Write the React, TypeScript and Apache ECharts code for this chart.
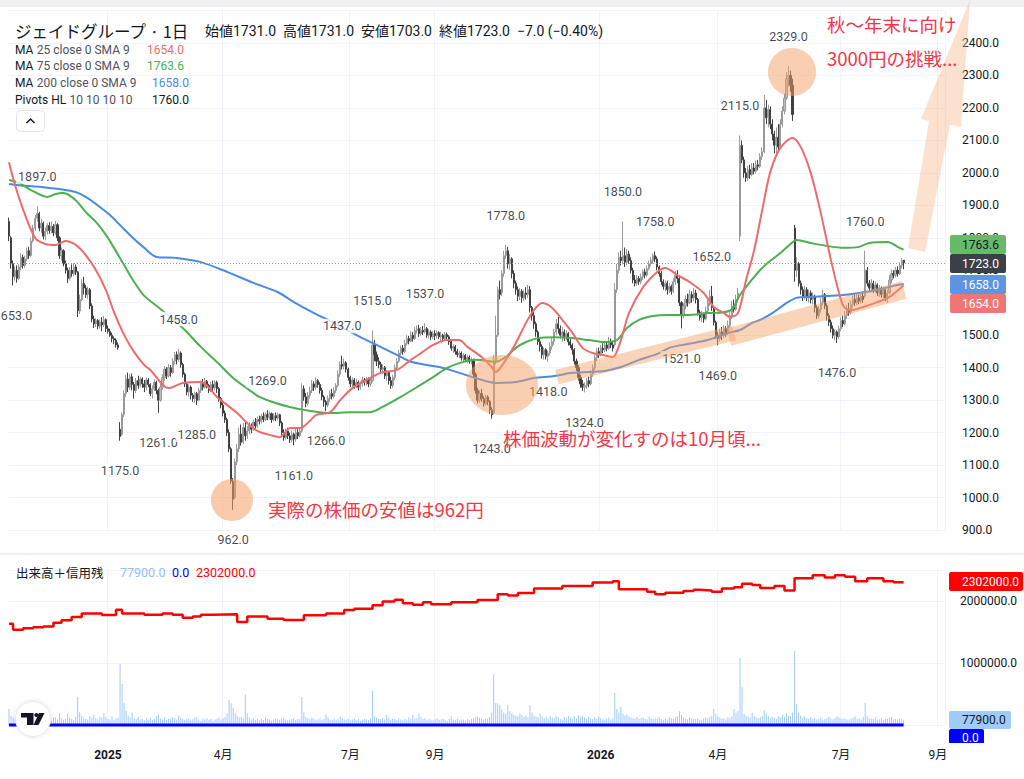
import React, { useEffect, useRef } from "react";
import * as echarts from "echarts";

const N_CATS = 464;
const xTickIdx = [49, 106, 169, 211, 293, 351, 412, 460];
const xTickLabels = ["2025", "4月", "7月", "9月", "2026", "4月", "7月", "9月"];

// [open, close, low, high]
const candles: number[][] = [
[1850,1805,1790,1862],[1800,1720,1705,1805],[1720,1680,1653,1730],[1680,1700,1668,1712],[1700,1675,1662,1715],
[1675,1710,1670,1720],[1710,1740,1700,1752],[1740,1715,1705,1748],[1715,1735,1708,1745],[1735,1760,1728,1770],
[1760,1745,1735,1772],[1745,1790,1740,1800],[1790,1830,1785,1840],[1830,1860,1822,1870],[1860,1875,1850,1897],
[1875,1830,1820,1880],[1830,1845,1815,1858],[1845,1805,1795,1850],[1805,1820,1792,1832],[1820,1838,1810,1845],
[1838,1822,1812,1848],[1822,1835,1815,1850],[1835,1815,1805,1842],[1815,1840,1810,1852],[1840,1800,1790,1845],
[1800,1745,1735,1805],[1745,1760,1730,1770],[1760,1720,1712,1765],[1720,1700,1690,1730],[1700,1675,1661,1708],
[1675,1700,1668,1710],[1700,1690,1680,1718],[1690,1710,1682,1722],[1710,1695,1685,1718],[1695,1575,1556,1698],
[1575,1610,1565,1625],[1610,1660,1605,1672],[1660,1645,1625,1680],[1645,1625,1615,1655],[1625,1640,1612,1650],
[1640,1590,1580,1645],[1590,1550,1540,1598],[1550,1535,1522,1560],[1535,1545,1525,1552],[1545,1528,1518,1550],
[1528,1540,1520,1548],[1540,1532,1512,1556],[1532,1548,1525,1560],[1548,1520,1510,1552],[1520,1512,1505,1530],
[1512,1500,1495,1520],[1500,1490,1478,1508],[1490,1485,1472,1496],[1485,1470,1462,1490],[1470,1462,1455,1478],
[1210,1188,1175,1232],[1195,1255,1190,1262],[1255,1320,1248,1330],[1320,1365,1310,1378],[1365,1340,1325,1385],
[1340,1372,1332,1380],[1372,1348,1330,1382],[1348,1330,1305,1356],[1330,1360,1322,1368],[1360,1345,1335,1375],
[1345,1365,1340,1372],[1365,1350,1338,1370],[1350,1340,1325,1362],[1340,1362,1330,1370],[1362,1348,1340,1368],
[1348,1320,1312,1352],[1320,1335,1305,1345],[1335,1355,1328,1365],[1355,1330,1318,1360],[1330,1300,1261,1335],
[1300,1340,1295,1350],[1340,1370,1332,1380],[1370,1395,1360,1405],[1395,1375,1365,1402],[1375,1400,1370,1412],
[1400,1385,1372,1408],[1385,1420,1380,1430],[1420,1440,1410,1448],[1440,1425,1410,1450],[1425,1445,1418,1458],
[1445,1410,1400,1450],[1410,1380,1370,1415],[1380,1350,1340,1385],[1350,1325,1315,1356],[1325,1340,1310,1348],
[1340,1315,1302,1345],[1315,1305,1295,1322],[1305,1320,1292,1326],[1320,1300,1285,1325],[1300,1330,1296,1338],
[1330,1352,1322,1360],[1352,1340,1330,1365],[1340,1358,1335,1368],[1358,1345,1336,1362],[1345,1330,1322,1350],
[1330,1348,1325,1356],[1348,1338,1328,1360],[1338,1355,1330,1362],[1355,1335,1322,1360],[1335,1305,1295,1340],
[1305,1285,1275,1310],[1285,1260,1250,1292],[1260,1240,1230,1268],[1240,1200,1190,1246],[1200,1150,1140,1210],
[1150,1050,1042,1155],[1050,995,962,1060],[1000,1110,995,1120],[1110,1150,1100,1165],[1150,1195,1140,1215],
[1195,1170,1160,1225],[1170,1215,1165,1230],[1215,1190,1175,1235],[1190,1205,1180,1220],[1205,1220,1195,1232],
[1220,1210,1198,1228],[1210,1232,1205,1240],[1232,1220,1212,1245],[1220,1240,1215,1250],[1240,1235,1225,1252],
[1235,1250,1228,1258],[1250,1240,1232,1262],[1240,1255,1235,1262],[1255,1248,1238,1269],[1248,1258,1240,1265],
[1258,1240,1230,1262],[1240,1252,1235,1260],[1252,1245,1235,1262],[1245,1255,1238,1262],[1255,1230,1220,1258],
[1230,1200,1190,1235],[1200,1185,1175,1210],[1185,1205,1178,1212],[1205,1190,1180,1215],[1190,1178,1168,1200],
[1178,1195,1170,1205],[1195,1180,1161,1200],[1180,1200,1172,1212],[1200,1190,1180,1210],[1190,1205,1185,1215],
[1205,1335,1200,1352],[1335,1310,1298,1345],[1310,1290,1278,1322],[1290,1315,1282,1325],[1315,1330,1305,1342],
[1330,1350,1322,1362],[1350,1340,1328,1358],[1340,1360,1332,1370],[1360,1348,1338,1365],[1348,1330,1320,1355],
[1330,1310,1300,1338],[1310,1295,1280,1315],[1295,1285,1266,1300],[1285,1305,1278,1315],[1305,1320,1295,1330],
[1320,1312,1302,1335],[1312,1330,1305,1340],[1330,1345,1322,1352],[1345,1380,1340,1392],[1380,1410,1372,1420],
[1410,1405,1395,1437],[1405,1415,1395,1428],[1415,1395,1385,1420],[1395,1370,1360,1400],[1370,1350,1340,1375],
[1350,1362,1338,1370],[1362,1345,1335,1368],[1345,1355,1338,1365],[1355,1340,1330,1360],[1340,1350,1332,1358],
[1350,1362,1342,1372],[1362,1355,1345,1368],[1355,1365,1345,1372],[1365,1350,1340,1370],[1350,1360,1342,1368],
[1360,1470,1355,1515],[1470,1440,1420,1485],[1440,1420,1405,1450],[1420,1410,1398,1432],[1410,1395,1385,1418],
[1395,1400,1380,1410],[1400,1375,1365,1405],[1375,1385,1360,1392],[1385,1360,1348,1390],[1360,1345,1335,1372],
[1345,1370,1338,1378],[1370,1400,1362,1410],[1400,1420,1392,1430],[1420,1445,1415,1455],[1445,1460,1438,1468],
[1460,1450,1440,1470],[1450,1475,1445,1485],[1475,1490,1468,1500],[1490,1482,1472,1498],[1482,1500,1478,1512],
[1500,1490,1480,1510],[1490,1515,1485,1525],[1515,1520,1505,1530],[1520,1505,1495,1532],[1505,1515,1498,1525],
[1515,1510,1500,1528],[1510,1520,1505,1537],[1520,1500,1492,1525],[1500,1510,1490,1518],[1510,1495,1485,1515],
[1495,1505,1488,1512],[1505,1498,1485,1515],[1498,1508,1490,1515],[1508,1495,1488,1512],[1495,1500,1482,1510],
[1500,1490,1480,1505],[1490,1502,1485,1510],[1502,1495,1485,1508],[1495,1480,1470,1500],[1480,1460,1452,1486],
[1460,1465,1445,1472],[1465,1450,1440,1470],[1450,1440,1432,1458],[1440,1445,1430,1452],[1445,1430,1422,1450],
[1430,1438,1420,1445],[1438,1425,1418,1442],[1425,1432,1415,1440],[1432,1420,1412,1438],[1420,1425,1410,1432],
[1425,1380,1370,1428],[1380,1330,1320,1385],[1330,1300,1290,1338],[1300,1320,1292,1330],[1320,1305,1295,1335],
[1305,1290,1280,1312],[1290,1310,1282,1318],[1310,1295,1285,1315],[1295,1270,1258,1300],[1270,1255,1243,1278],
[1260,1420,1255,1440],[1420,1500,1410,1560],[1500,1640,1495,1650],[1640,1625,1610,1668],[1630,1690,1620,1700],
[1690,1745,1680,1760],[1745,1760,1735,1778],[1760,1720,1705,1772],[1720,1735,1700,1750],[1735,1690,1675,1740],
[1690,1660,1645,1700],[1660,1640,1625,1668],[1640,1620,1605,1650],[1620,1635,1608,1645],[1635,1615,1600,1642],
[1615,1630,1605,1640],[1630,1625,1610,1648],[1625,1640,1615,1655],[1640,1585,1570,1652],[1585,1560,1545,1590],
[1560,1535,1520,1572],[1535,1510,1495,1542],[1510,1480,1470,1515],[1480,1465,1450,1490],[1465,1440,1428,1472],
[1440,1455,1425,1462],[1455,1435,1425,1460],[1435,1445,1418,1452],[1445,1465,1438,1478],[1465,1480,1455,1492],
[1480,1510,1470,1520],[1510,1535,1500,1550],[1535,1520,1505,1556],[1520,1500,1490,1530],[1500,1510,1480,1525],
[1510,1495,1482,1518],[1495,1505,1485,1515],[1505,1480,1468,1510],[1480,1470,1460,1488],[1470,1455,1440,1475],
[1455,1420,1410,1460],[1420,1400,1390,1428],[1400,1370,1360,1408],[1370,1350,1338,1378],[1350,1340,1328,1362],
[1340,1345,1324,1355],[1345,1360,1335,1368],[1360,1350,1340,1372],[1350,1380,1345,1392],[1380,1400,1372,1410],
[1400,1430,1392,1440],[1430,1450,1420,1460],[1450,1440,1430,1462],[1440,1460,1435,1470],[1460,1455,1445,1475],
[1455,1470,1448,1480],[1470,1460,1450,1478],[1460,1480,1455,1495],[1480,1470,1460,1490],[1470,1460,1450,1480],
[1470,1640,1465,1660],[1640,1700,1630,1720],[1700,1740,1690,1755],[1740,1730,1715,1760],[1730,1745,1720,1850],
[1745,1725,1710,1770],[1725,1750,1715,1765],[1750,1730,1720,1760],[1730,1700,1690,1740],[1700,1670,1660,1708],
[1670,1660,1650,1685],[1660,1675,1652,1685],[1675,1665,1655,1682],[1665,1680,1658,1690],[1680,1695,1670,1702],
[1695,1685,1675,1705],[1685,1705,1680,1715],[1705,1720,1700,1730],[1720,1730,1712,1740],[1730,1745,1720,1752],
[1745,1735,1725,1758],[1735,1710,1700,1742],[1710,1690,1680,1715],[1690,1665,1655,1698],[1665,1650,1640,1672],
[1650,1660,1635,1668],[1660,1640,1625,1668],[1640,1650,1630,1660],[1650,1635,1625,1656],[1635,1665,1630,1675],
[1665,1685,1655,1698],[1685,1675,1660,1700],[1675,1600,1590,1680],[1600,1560,1521,1605],[1560,1590,1552,1598],
[1590,1610,1580,1622],[1610,1600,1588,1628],[1600,1625,1595,1640],[1625,1615,1600,1635],[1615,1630,1605,1645],
[1630,1610,1598,1640],[1610,1570,1560,1615],[1570,1555,1545,1578],[1555,1565,1540,1575],[1565,1550,1538,1570],
[1550,1575,1545,1588],[1575,1600,1568,1612],[1600,1620,1590,1640],[1620,1585,1575,1652],[1585,1540,1530,1590],
[1540,1500,1488,1545],[1500,1490,1469,1510],[1490,1510,1480,1520],[1510,1500,1485,1525],[1500,1520,1492,1530],
[1520,1505,1495,1528],[1505,1530,1500,1545],[1530,1560,1522,1572],[1560,1590,1550,1605],[1590,1580,1570,1610],
[1580,1610,1575,1625],[1610,1630,1600,1645],[1805,2085,1790,2115],[2085,2040,2030,2100],[2040,2000,1985,2050],
[2000,1985,1972,2015],[1985,2010,1975,2022],[2010,1995,1982,2025],[1995,2015,1990,2030],[2015,2005,1995,2030],
[2005,2025,1998,2038],[2025,2020,2008,2040],[2020,2050,2015,2060],[2050,2065,2040,2078],[2065,2200,2060,2240],
[2200,2170,2150,2225],[2170,2195,2140,2210],[2195,2150,2135,2205],[2150,2120,2100,2165],[2120,2085,2060,2130],
[2085,2110,2050,2140],[2110,2080,2070,2150],[2080,2150,2075,2165],[2150,2190,2140,2205],[2190,2230,2180,2245],
[2230,2290,2225,2310],[2290,2300,2265,2329],[2300,2270,2250,2315],[2270,2180,2160,2290],[1830,1700,1665,1840],
[1700,1720,1680,1740],[1720,1660,1650,1725],[1660,1640,1625,1668],[1640,1620,1605,1650],[1620,1640,1610,1652],
[1640,1615,1605,1648],[1615,1630,1600,1640],[1630,1610,1598,1638],[1610,1620,1595,1632],[1620,1585,1570,1625],
[1585,1560,1550,1592],[1560,1580,1552,1590],[1580,1600,1570,1615],[1600,1625,1592,1640],[1625,1590,1580,1630],
[1590,1560,1545,1598],[1560,1540,1528,1568],[1540,1520,1508,1548],[1520,1500,1490,1530],[1500,1510,1485,1518],
[1510,1495,1476,1515],[1495,1520,1488,1530],[1520,1545,1512,1555],[1545,1535,1525,1560],[1535,1560,1530,1575],
[1560,1580,1550,1592],[1580,1570,1560,1600],[1570,1595,1565,1608],[1595,1610,1585,1622],[1610,1600,1590,1625],
[1600,1615,1592,1630],[1615,1605,1595,1625],[1605,1620,1598,1632],[1620,1610,1600,1635],[1620,1700,1615,1760],
[1700,1660,1650,1710],[1660,1645,1632,1670],[1645,1660,1638,1672],[1660,1640,1630,1668],[1640,1655,1632,1665],
[1655,1630,1620,1660],[1630,1645,1618,1655],[1645,1625,1615,1650],[1625,1640,1612,1650],[1640,1615,1605,1645],
[1615,1630,1600,1640],[1630,1670,1625,1685],[1670,1690,1660,1702],[1690,1685,1675,1700],[1685,1700,1678,1710],
[1700,1690,1680,1712],[1690,1715,1685,1725],[1715,1730,1705,1738],[1731,1723,1703,1731]
];

// volume in thousands of shares
const volumeK: number[] = [
260,150,120,90,110,80,130,100,70,95,120,85,140,110,75,90,105,130,80,100,
95,70,115,125,90,190,110,85,100,180,120,95,80,130,450,210,150,120,100,90,
140,120,170,110,95,130,115,190,125,100,90,140,85,110,120,980,660,360,230,150,
120,200,110,95,130,85,100,75,110,90,120,80,95,140,170,110,90,125,80,100,
95,130,110,85,150,120,100,80,95,110,75,90,115,130,85,70,100,90,110,80,
95,70,85,100,120,90,110,130,180,400,350,280,190,150,120,130,110,500,190,120,
90,110,85,100,75,95,80,120,100,90,70,85,110,95,80,100,120,90,75,85,
95,110,80,100,90,450,200,130,110,95,120,100,85,90,110,80,95,170,120,90,
80,100,75,95,130,110,90,85,100,75,90,110,80,95,70,85,100,90,80,110,
550,140,120,100,95,110,90,170,120,85,100,95,80,110,90,75,100,85,120,95,
160,100,110,180,130,95,110,85,100,90,75,95,110,80,90,100,85,70,95,140,
90,80,100,75,90,85,70,95,80,100,110,130,140,120,100,90,110,95,130,200,
820,350,350,320,250,200,180,320,220,190,160,150,140,180,160,130,150,120,320,200,
150,130,120,180,140,110,130,100,150,120,110,140,125,100,90,130,110,150,120,100,
140,110,160,130,150,120,100,135,110,95,120,100,140,110,90,80,100,120,90,110,
520,260,200,300,180,150,170,140,120,110,100,130,95,110,120,100,90,140,100,95,
110,100,130,95,85,100,90,120,110,95,130,140,220,160,120,100,90,130,110,100,
95,110,90,80,100,120,110,130,150,260,180,140,120,100,110,90,130,110,140,260,
200,220,1080,610,180,150,130,120,190,140,120,110,130,150,240,180,140,110,130,120,
100,140,120,170,130,190,150,140,200,1190,340,200,150,120,140,110,100,130,95,110,
90,100,120,85,95,110,130,100,90,110,140,120,100,95,110,90,85,100,120,140,
95,110,90,130,360,140,110,100,95,120,85,90,110,80,100,95,120,130,90,100,
85,110,95,77.9
];

// margin balance steps [bar index, thousands]
const creditK: number[][] = [
[0,1634],[2,1537],[7,1560],[12,1575],[17,1590],[22,1650],[26,1690],[31,1742],[36,1800],[46,1775],
[53,1860],[56,1797],[67,1780],[76,1800],[81,1780],[86,1731],[91,1750],[95,1780],[101,1786],[113,1661],
[118,1750],[128,1715],[136,1694],[146,1770],[157,1797],[166,1855],[171,1876],[180,1930],[185,1990],[191,2020],
[195,1963],[200,1940],[205,1980],[209,1946],[219,1980],[232,2016],[242,2108],[247,2090],[252,2130],[260,2200],
[274,2242],[289,2300],[299,2320],[302,2190],[316,2150],[320,2108],[325,2135],[334,2160],[339,2180],[342,2170],
[348,2150],[353,2200],[359,2220],[363,2280],[368,2260],[372,2210],[379,2240],[384,2170],[389,2366],[398,2414],
[404,2380],[409,2414],[414,2390],[419,2320],[425,2366],[433,2320],[438,2302],[443,2302]
];

const ma25: number[][] = [
[0,2033],[3,1962],[8,1870],[13,1799],[18,1781],[23,1778],[28,1790],[33,1778],[38,1747],[43,1701],
[48,1639],[52,1571],[57,1501],[62,1448],[67,1408],[70,1393],[79,1337],[86,1353],[95,1356],[103,1310],
[113,1260],[119,1223],[124,1202],[129,1193],[134,1186],[137,1202],[139,1214],[144,1214],[149,1236],[152,1254],
[159,1263],[164,1300],[170,1337],[177,1362],[184,1384],[192,1393],[199,1424],[204,1445],[210,1470],[217,1485],
[223,1485],[227,1464],[234,1433],[239,1402],[241,1387],[246,1424],[251,1476],[256,1538],[260,1578],[264,1599],
[269,1584],[274,1547],[279,1507],[284,1461],[289,1445],[294,1439],[299,1433],[303,1485],[307,1568],[314,1648],
[321,1695],[325,1707],[331,1685],[337,1664],[344,1630],[349,1587],[354,1568],[357,1556],[361,1568],[365,1670],
[369,1762],[373,1886],[377,2003],[382,2077],[388,2107],[392,2080],[397,2000],[402,1876],[407,1732],[412,1608],
[414,1584],[418,1578],[423,1587],[430,1602],[436,1618],[443,1654]
];

const ma75: number[][] = [
[0,1978],[5,1969],[10,1950],[19,1926],[23,1935],[27,1938],[33,1916],[38,1879],[43,1849],[48,1809],
[52,1769],[57,1716],[62,1664],[67,1621],[75,1581],[86,1522],[95,1464],[103,1417],[111,1368],[119,1331],
[124,1310],[132,1291],[139,1279],[146,1270],[159,1260],[169,1263],[179,1263],[185,1279],[194,1310],[202,1340],
[210,1371],[217,1399],[223,1414],[231,1424],[241,1418],[246,1433],[251,1461],[256,1479],[262,1491],[270,1494],
[279,1491],[287,1485],[295,1479],[301,1485],[306,1522],[312,1547],[319,1559],[326,1562],[336,1562],[346,1568],
[354,1571],[358,1580],[362,1624],[367,1664],[372,1701],[377,1729],[382,1753],[387,1781],[390,1793],[397,1784],
[405,1775],[413,1769],[421,1772],[426,1784],[435,1787],[441,1769],[443,1763.6]
];

const ma200: number[][] = [
[0,1966],[8,1960],[17,1956],[25,1950],[33,1941],[38,1926],[45,1895],[50,1870],[55,1839],[61,1802],
[67,1769],[73,1741],[83,1738],[95,1725],[108,1695],[121,1661],[133,1633],[141,1602],[148,1578],[153,1562],
[161,1538],[170,1507],[177,1485],[185,1461],[194,1433],[199,1418],[207,1408],[215,1399],[223,1384],[231,1368],
[241,1353],[251,1356],[260,1368],[270,1374],[279,1384],[287,1387],[295,1390],[303,1402],[312,1424],[322,1445],
[327,1461],[336,1473],[346,1485],[356,1507],[362,1516],[368,1538],[372,1547],[378,1568],[385,1599],[390,1615],
[397,1618],[405,1621],[413,1624],[421,1630],[430,1639],[438,1652],[443,1658]
];

const pivotHighs: number[][] = [
[14,1897],[84,1458],[128,1269],[165,1437],[180,1515],[206,1537],[246,1778],[304,1850],[320,1758],[348,1652],
[362,2115],[386,2329],[424,1760]
];
const pivotLows: number[][] = [
[2,1653],[55,1175],[74,1261],[93,1285],[111,962],[141,1161],[157,1266],[239,1243],[267,1418],[285,1324],
[333,1521],[351,1469],[410,1476]
];

const FONT = "Roboto, 'Noto Sans CJK JP', 'Noto Sans', sans-serif";
const JFONT = "'Noto Sans CJK JP', 'Noto Sans', sans-serif";
const DARK = "#131722";
const RED_MA = "#ef6b6b";
const GREEN_MA = "#4caf50";
const BLUE_MA = "#4a8be0";

function T(x: number, y: number, text: string, fill: string, fontSize = 12, extra: any = {}) {
  return {
    type: "text",
    x,
    y,
    z: 110,
    style: {
      text,
      fill,
      fontSize,
      fontFamily: FONT,
      verticalAlign: "middle",
      align: "left",
      ...extra,
    },
  };
}

function badge(x: number, y: number, w: number, h: number, bg: string, text: string, fg: string) {
  return [
    { type: "rect", z: 110, shape: { x, y, width: w, height: h, r: 2 }, style: { fill: bg } },
    T(962, y + h / 2, text, fg, 12),
  ];
}

export default function App() {
  const ref = useRef<HTMLDivElement>(null);

  useEffect(() => {
    const chart = echarts.init(ref.current!, undefined, { renderer: "svg" });
    const cats = Array.from({ length: N_CATS }, (_, i) => String(i));
    const tickSet = new Set(xTickIdx);
    const last = candles[candles.length - 1];
    const lastVol = volumeK[volumeK.length - 1] * 1000;
    const lastCredit = creditK[creditK.length - 1][1] * 1000;

    const xBase = {
      type: "category",
      data: cats,
      boundaryGap: true,
      axisLine: { show: false },
      axisTick: { show: false },
      splitLine: {
        show: true,
        interval: (idx: number) => tickSet.has(idx),
        lineStyle: { color: "#f0f3fa", width: 1 },
      },
    };

    const pivotLabel = (pos: string) => ({
      show: true,
      position: pos,
      distance: 22,
      formatter: (p: any) => Number(p.value[1]).toFixed(1),
      color: DARK,
      fontSize: 12.5,
      fontFamily: FONT,
      backgroundColor: "#ffffff",
      padding: [1, 2],
    });

    const graphics: any[] = [
      { type: "rect", z: 90, shape: { x: 0, y: 0, width: 1024, height: 7 }, style: { fill: "#f0f0f2" } },
      { type: "line", z: 90, shape: { x1: 0, y1: 554, x2: 1024, y2: 554 }, style: { stroke: "#e0e3eb", lineWidth: 1 } },
      T(15, 31, "ジェイドグループ · 1日", DARK, 16.5, { fontFamily: JFONT }),
      T(205, 31, "始値1731.0  高値1731.0  安値1703.0  終値1723.0  −7.0 (−0.40%)", DARK, 14),
      {
        type: "text", x: 15, y: 50, z: 110,
        style: { text: "{a|MA} {b|25 close 0 SMA 9}", verticalAlign: "middle", rich: { a: { fill: DARK, fontSize: 12, fontFamily: FONT }, b: { fill: "#50535e", fontSize: 12, fontFamily: FONT } } },
      },
      T(147, 50, "1654.0", RED_MA),
      {
        type: "text", x: 15, y: 66, z: 110,
        style: { text: "{a|MA} {b|75 close 0 SMA 9}", verticalAlign: "middle", rich: { a: { fill: DARK, fontSize: 12, fontFamily: FONT }, b: { fill: "#50535e", fontSize: 12, fontFamily: FONT } } },
      },
      T(147, 66, "1763.6", GREEN_MA),
      {
        type: "text", x: 15, y: 83, z: 110,
        style: { text: "{a|MA} {b|200 close 0 SMA 9}", verticalAlign: "middle", rich: { a: { fill: DARK, fontSize: 12, fontFamily: FONT }, b: { fill: "#50535e", fontSize: 12, fontFamily: FONT } } },
      },
      T(152, 83, "1658.0", BLUE_MA),
      {
        type: "text", x: 15, y: 100, z: 110,
        style: { text: "{a|Pivots HL} {b|10 10 10 10}", verticalAlign: "middle", rich: { a: { fill: DARK, fontSize: 12, fontFamily: FONT }, b: { fill: "#50535e", fontSize: 12, fontFamily: FONT } } },
      },
      T(152, 100, "1760.0", DARK),
      { type: "rect", z: 110, shape: { x: 16.5, y: 110.5, width: 28, height: 21, r: 4 }, style: { fill: "#fff", stroke: "#e0e3eb", lineWidth: 1 } },
      { type: "polyline", z: 111, shape: { points: [[26.5, 123], [30.5, 119], [34.5, 123]] }, style: { stroke: DARK, lineWidth: 1.5, fill: null } },

      { type: "circle", z: 100, shape: { cx: 232, cy: 500, r: 21 }, style: { fill: "rgba(245,160,100,0.55)" } },
      { type: "ellipse", z: 100, shape: { cx: 502, cy: 385, rx: 36, ry: 30 }, style: { fill: "rgba(245,160,100,0.5)" } },
      { type: "circle", z: 100, shape: { cx: 792, cy: 72, r: 24 }, style: { fill: "rgba(245,160,100,0.5)" } },
      { type: "line", z: 100, shape: { x1: 557, y1: 377, x2: 734, y2: 333 }, style: { stroke: "rgba(245,160,100,0.45)", lineWidth: 15 } },
      { type: "line", z: 100, shape: { x1: 729, y1: 337, x2: 904, y2: 290 }, style: { stroke: "rgba(245,160,100,0.45)", lineWidth: 18 } },
      {
        type: "polygon", z: 100,
        shape: { points: [[908, 248], [925, 252], [950, 125], [961, 127], [970, 0], [921, 119], [929, 121]] },
        style: { fill: "rgba(248,175,130,0.38)" },
      },

      T(268, 509, "実際の株価の安値は962円", "#f23645", 18.5, { fontFamily: JFONT }),
      T(503, 438, "株価波動が変化すのは10月頃...", "#f23645", 18.5, { fontFamily: JFONT }),
      T(827, 24, "秋～年末に向け", "#f23645", 18.5, { fontFamily: JFONT }),
      T(827, 58, "3000円の挑戦...", "#f23645", 18.5, { fontFamily: JFONT }),

      ...badge(950, 235, 56, 19, "#66bb6a", "1763.6", DARK),
      ...badge(950, 254, 56, 19, "#3c3f47", last[1].toFixed(1), "#ffffff"),
      ...badge(950, 275, 56, 19, "#5b95e4", "1658.0", "#ffffff"),
      ...badge(950, 294, 56, 19, "#f07575", "1654.0", "#ffffff"),

      T(16, 572, "出来高＋信用残", DARK, 12.5, { fontFamily: JFONT }),
      T(120, 572, lastVol.toFixed(1), "#90bff9", 12.5),
      T(172, 572, "0.0", "#0000ff", 12.5),
      T(196, 572, lastCredit.toFixed(1), "#ff0000", 12.5),

      ...badge(949, 572, 74, 19, "#ff0000", lastCredit.toFixed(1), "#ffffff"),
      ...badge(949, 711, 62, 18, "#9ecbfa", lastVol.toFixed(1), DARK),
      ...badge(949, 729, 35, 18, "#0000ff", "0.0", "#ffffff"),
      { type: "rect", z: 115, shape: { x: 946, y: 743, width: 78, height: 36 }, style: { fill: "#ffffff" } },

      { type: "circle", z: 110, shape: { cx: 33, cy: 719, r: 17.5 }, style: { fill: "#ffffff", stroke: "#e6e8ee", lineWidth: 1, shadowBlur: 4, shadowColor: "rgba(0,0,0,0.12)" } },
      { type: "polygon", z: 111, shape: { points: [[21, 713], [33.5, 713], [33.5, 725], [27, 725], [27, 717.5], [21, 717.5]] }, style: { fill: DARK } },
      { type: "circle", z: 111, shape: { cx: 36.3, cy: 715, r: 2 }, style: { fill: DARK } },
      { type: "polygon", z: 111, shape: { points: [[39, 713], [44.5, 713], [38.5, 725], [33.5, 725]] }, style: { fill: DARK } },
    ];

    const option: any = {
      animation: false,
      backgroundColor: "#ffffff",
      textStyle: { fontFamily: FONT },
      grid: [
        { left: 8, top: 10.53, width: 937, height: 519.47 },
        { left: 8, top: 570, width: 937, height: 155 },
      ],
      xAxis: [
        { ...xBase, gridIndex: 0, axisLabel: { show: false } },
        {
          ...xBase,
          gridIndex: 1,
          axisLabel: {
            show: true,
            interval: (idx: number) => tickSet.has(idx),
            margin: 24,
            color: DARK,
            fontSize: 12,
            fontFamily: FONT,
            formatter: (_v: string, idx: number) => {
              const k = xTickIdx.indexOf(idx);
              const s = k >= 0 ? xTickLabels[k] : "";
              return /^\d{4}$/.test(s) ? `{b|${s}}` : s;
            },
            rich: { b: { fontWeight: "bold", fontSize: 12, color: DARK, fontFamily: FONT } },
          },
        },
      ],
      yAxis: [
        {
          type: "value",
          gridIndex: 0,
          position: "right",
          min: 900,
          max: 2500,
          interval: 100,
          axisLine: { show: false },
          axisTick: { show: false },
          axisLabel: {
            margin: 17,
            color: DARK,
            fontSize: 12,
            fontFamily: FONT,
            formatter: (v: number) => (v >= 2500 ? "" : v.toFixed(1)),
          },
          splitLine: { lineStyle: { color: "#f0f3fa" } },
        },
        {
          type: "value",
          gridIndex: 1,
          position: "right",
          min: 0,
          max: 2500000,
          interval: 1000000,
          axisLine: { show: false },
          axisTick: { show: false },
          axisLabel: {
            margin: 15,
            color: DARK,
            fontSize: 12,
            fontFamily: FONT,
            formatter: (v: number) => (v <= 0 || v >= 2500000 ? "" : v.toFixed(1)),
          },
          splitLine: { lineStyle: { color: "#f0f3fa" } },
        },
      ],
      series: [
        {
          type: "candlestick",
          xAxisIndex: 0,
          yAxisIndex: 0,
          data: candles,
          barWidth: 1.6,
          itemStyle: {
            color: "#bcbcbc",
            color0: "#404040",
            borderColor: "#9a9a9a",
            borderColor0: "#404040",
            borderWidth: 1,
          },
          markLine: {
            silent: true,
            symbol: "none",
            label: { show: false },
            lineStyle: { type: [1, 2], color: "#9598a1", width: 1 },
            data: [{ yAxis: last[1] }],
          },
        },
        { type: "line", name: "MA200", xAxisIndex: 0, yAxisIndex: 0, data: ma200, smooth: 0.3, symbol: "none", lineStyle: { color: BLUE_MA, width: 2 }, z: 3 },
        { type: "line", name: "MA75", xAxisIndex: 0, yAxisIndex: 0, data: ma75, smooth: 0.3, symbol: "none", lineStyle: { color: GREEN_MA, width: 2 }, z: 3 },
        { type: "line", name: "MA25", xAxisIndex: 0, yAxisIndex: 0, data: ma25, smooth: 0.3, symbol: "none", lineStyle: { color: RED_MA, width: 2 }, z: 3 },
        {
          type: "scatter", xAxisIndex: 0, yAxisIndex: 0, data: pivotHighs, symbolSize: 1,
          itemStyle: { color: "rgba(0,0,0,0)" }, label: pivotLabel("top"), z: 5, silent: true,
        },
        {
          type: "scatter", xAxisIndex: 0, yAxisIndex: 0, data: pivotLows, symbolSize: 1,
          itemStyle: { color: "rgba(0,0,0,0)" }, label: pivotLabel("bottom"), z: 5, silent: true,
        },
        {
          type: "bar", xAxisIndex: 1, yAxisIndex: 1, data: volumeK.map((v) => v * 1000),
          barWidth: 1, itemStyle: { color: "#a3cbf5" }, z: 2,
        },
        {
          type: "line", xAxisIndex: 1, yAxisIndex: 1, data: [[0, 0], [candles.length - 1, 0]],
          symbol: "none", lineStyle: { color: "#0000ff", width: 3 }, clip: false, z: 4,
        },
        {
          type: "line", xAxisIndex: 1, yAxisIndex: 1, step: "end",
          data: creditK.map(([i, v]) => [i, v * 1000]),
          symbol: "none", lineStyle: { color: "#ff0000", width: 2.5 }, z: 4,
        },
      ],
      graphic: graphics,
    };

    chart.setOption(option);
    return () => chart.dispose();
  }, []);

  return (
    <div
      ref={ref}
      style={{ position: "absolute", left: 0, top: 0, width: 1024, height: 779, background: "#fff" }}
    />
  );
}
